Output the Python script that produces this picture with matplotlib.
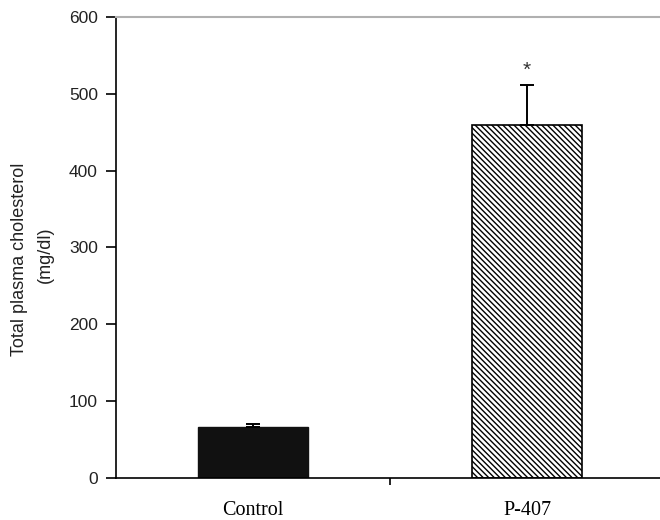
import matplotlib
matplotlib.use("Agg")
import matplotlib.pyplot as plt

categories = ["Control", "P-407"]
values = [66, 460]
errors = [4, 52]
yticks = [0, 100, 200, 300, 400, 500, 600]

plt.rcParams['hatch.linewidth'] = 1.0
fig = plt.figure(figsize=(6.6, 5.2), dpi=100)
ax = fig.add_axes([116/660, 1-478/520, (664-116)/660, (478-17)/520])

x = [0, 1]
ax.bar(x[0], values[0], width=0.4, color="#111111", edgecolor="#111111", zorder=2)
ax.bar(x[1], values[1], width=0.4, color="white", edgecolor="black", hatch="\\\\\\\\\\\\", linewidth=1.2, zorder=2)
ax.errorbar(x, values, yerr=[[0, 0], errors], fmt="none", ecolor="black",
            elinewidth=1.4, capsize=5, capthick=1.4, zorder=3)
ax.text(x[1], values[1] + errors[1] + 18, "*", ha="center", va="center", fontsize=15,
        family="Liberation Sans", color="#333333")

ax.set_xlim(-0.5, 1.5)
ax.set_ylim(0, 600)
ax.set_yticks(yticks)
ax.set_yticklabels([str(t) for t in yticks], family="Liberation Sans", fontsize=12.5, color="#222222")
ax.set_xticks([0.5])
ax.set_xticklabels([""])
for xi, c in zip(x, categories):
    ax.text(xi, -0.07, c, transform=ax.get_xaxis_transform(), ha="center", va="center",
            fontsize=14.5, family="Liberation Serif")

ax.tick_params(axis="y", direction="out", length=7, width=1.2, pad=6)
ax.tick_params(axis="x", direction="out", length=5, width=1.2)
ax.spines["right"].set_visible(False)
ax.spines["top"].set_color("#b0b0b0")
ax.spines["top"].set_linewidth(1.5)
ax.spines["left"].set_linewidth(1.2)
ax.spines["bottom"].set_linewidth(1.2)

fig.text(20/660, 1-259/520, "Total plasma cholesterol", rotation=90, ha="center", va="center",
         fontsize=13, family="Liberation Sans", color="#222222")
fig.text(45/660, 1-255/520, "(mg/dl)", rotation=90, ha="center", va="center",
         fontsize=13, family="Liberation Sans", color="#222222")

fig.savefig("out.png", dpi=100)
